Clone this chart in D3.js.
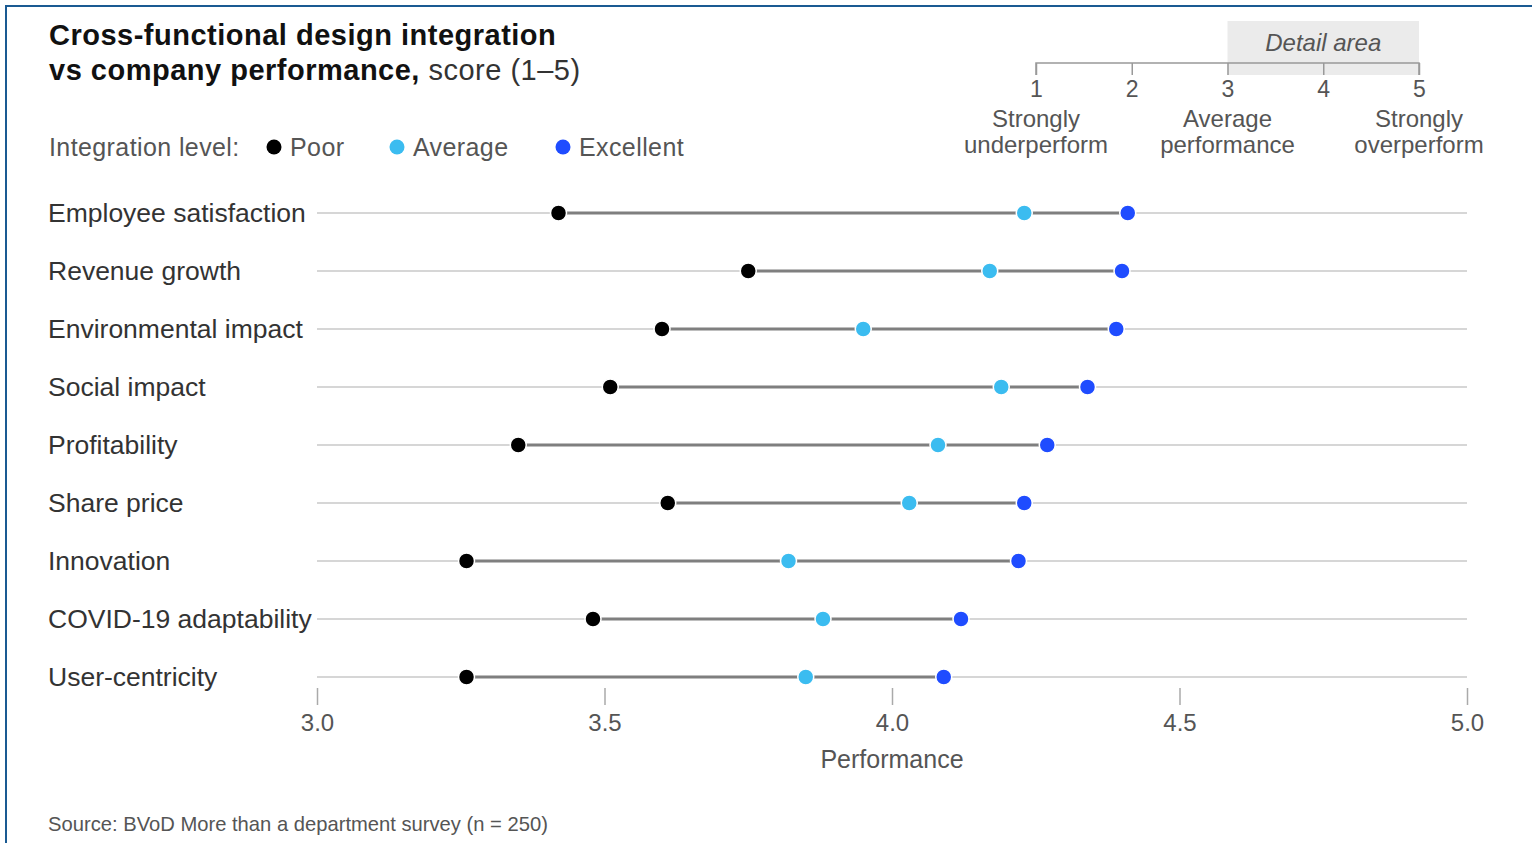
<!DOCTYPE html>
<html>
<head>
<meta charset="utf-8">
<script src="https://cdn.jsdelivr.net/npm/d3@7"></script>
<style>
  body { margin: 0; background: #fff; }
  text { font-family: "Liberation Sans", Arial, sans-serif; }
</style>
</head>
<body>
<script>
// ---- data ----
var metrics = ["Employee satisfaction", "Revenue growth", "Environmental impact", "Social impact",
               "Profitability", "Share price", "Innovation", "COVID-19 adaptability", "User-centricity"];
var poor      = [3.42, 3.75, 3.60, 3.51, 3.35, 3.61, 3.26, 3.48, 3.26];
var average   = [4.23, 4.17, 3.95, 4.19, 4.08, 4.03, 3.82, 3.88, 3.85];
var excellent = [4.41, 4.40, 4.39, 4.34, 4.27, 4.23, 4.22, 4.12, 4.09];
var levels = ["Poor", "Average", "Excellent"];
var levelColors = ["#000000", "#3bbcf0", "#1f4cff"];
var xTicks = [3.0, 3.5, 4.0, 4.5, 5.0];
var scaleTicks = [1, 2, 3, 4, 5];
var scaleNotes = [[1, "Strongly", "underperform"], [3, "Average", "performance"], [5, "Strongly", "overperform"]];

var width = 1532, height = 843;

var svg = d3.select("body").append("svg")
    .attr("width", width)
    .attr("height", height);

// frame (top + left border)
svg.append("line").attr("x1", 5).attr("x2", width).attr("y1", 6).attr("y2", 6)
    .attr("stroke", "#1a5a92").attr("stroke-width", 2);
svg.append("line").attr("x1", 6).attr("x2", 6).attr("y1", 5).attr("y2", height)
    .attr("stroke", "#1a5a92").attr("stroke-width", 2);

// title
svg.append("text").attr("x", 49).attr("y", 45)
    .attr("font-size", "29px").attr("font-weight", "bold").attr("fill", "#111")
    .attr("letter-spacing", "0.5px")
    .text("Cross-functional design integration");
var t2 = svg.append("text").attr("x", 49).attr("y", 80)
    .attr("font-size", "29px").attr("fill", "#111").attr("letter-spacing", "0.5px");
t2.append("tspan").attr("font-weight", "bold").text("vs company performance,");
t2.append("tspan").attr("fill", "#333").text(" score (1\u20135)");

// legend
svg.append("text").attr("x", 49).attr("y", 156)
    .attr("font-size", "25px").attr("letter-spacing", "0.4px").attr("fill", "#555").text("Integration level:");
var legendX = [274, 397, 563];
levels.forEach(function(l, i) {
    svg.append("circle").attr("cx", legendX[i]).attr("cy", 147).attr("r", 7.5)
        .attr("fill", levelColors[i]);
    svg.append("text").attr("x", legendX[i] + 16).attr("y", 156)
        .attr("font-size", "25px").attr("letter-spacing", "0.4px").attr("fill", "#555").text(l);
});

// ---- mini scale (top right) ----
var s = d3.scaleLinear().domain([1, 5]).range([1036, 1419]);
svg.append("rect").attr("x", s(3)).attr("y", 21).attr("width", s(5) - s(3)).attr("height", 54)
    .attr("fill", "#ebebeb");
svg.append("text").attr("x", (s(3) + s(5)) / 2).attr("y", 51)
    .attr("text-anchor", "middle").attr("font-size", "24px").attr("font-style", "italic")
    .attr("fill", "#555").text("Detail area");
var mini = svg.append("g").attr("transform", "translate(0,63)")
    .call(d3.axisBottom(s).tickValues(scaleTicks).tickFormat(d3.format("d")).tickSize(12).tickPadding(6));
mini.select(".domain").attr("stroke", "#999").attr("stroke-width", 1.5)
    .attr("d", "M" + s(1) + ",12V0H" + s(5) + "V12");
mini.selectAll(".tick line").attr("stroke", "#999").attr("stroke-width", 1.5);
mini.selectAll(".tick text").attr("font-size", "23px").attr("fill", "#555")
    .attr("font-family", "Liberation Sans, Arial, sans-serif");
scaleNotes.forEach(function(n) {
    var g = svg.append("text").attr("text-anchor", "middle").attr("font-size", "24px").attr("fill", "#555");
    g.append("tspan").attr("x", s(n[0])).attr("y", 127).text(n[1]);
    g.append("tspan").attr("x", s(n[0])).attr("y", 153).text(n[2]);
});

// ---- main chart ----
var x = d3.scaleLinear().domain([3, 5]).range([317, 1467]);
var y = d3.scalePoint().domain(metrics).range([213, 677]);

// background row lines
svg.selectAll(".rowline").data(metrics).join("line")
    .attr("class", "rowline")
    .attr("x1", x(3)).attr("x2", x(5))
    .attr("y1", function(d) { return y(d); }).attr("y2", function(d) { return y(d); })
    .attr("stroke", "#c8c8c8").attr("stroke-width", 1.5);

// range lines poor -> excellent
svg.selectAll(".range").data(metrics).join("line")
    .attr("class", "range")
    .attr("x1", function(d, i) { return x(poor[i]); })
    .attr("x2", function(d, i) { return x(excellent[i]); })
    .attr("y1", function(d) { return y(d); }).attr("y2", function(d) { return y(d); })
    .attr("stroke", "#7f7f7f").attr("stroke-width", 3);

// dots
[poor, average, excellent].forEach(function(series, k) {
    svg.selectAll(".dot" + k).data(metrics).join("circle")
        .attr("class", "dot" + k)
        .attr("cx", function(d, i) { return x(series[i]); })
        .attr("cy", function(d) { return y(d); })
        .attr("r", 8)
        .attr("fill", levelColors[k])
        .attr("stroke", "#fff").attr("stroke-width", 1.5);
});

// row labels
svg.selectAll(".rowlabel").data(metrics).join("text")
    .attr("class", "rowlabel")
    .attr("x", 48)
    .attr("y", function(d) { return y(d) + 9; })
    .attr("font-size", "26.5px").attr("fill", "#333")
    .text(function(d) { return d; });

// x axis
var xa = svg.append("g").attr("transform", "translate(0,688)")
    .call(d3.axisBottom(x).tickValues(xTicks).tickFormat(d3.format(".1f")).tickSize(17).tickPadding(9));
xa.select(".domain").remove();
xa.selectAll(".tick line").attr("stroke", "#aaa").attr("stroke-width", 1.5);
xa.selectAll(".tick text").attr("font-size", "24px").attr("fill", "#555")
    .attr("font-family", "Liberation Sans, Arial, sans-serif");

svg.append("text").attr("x", x(4)).attr("y", 768).attr("text-anchor", "middle")
    .attr("font-size", "25px").attr("fill", "#555").text("Performance");

// source
svg.append("text").attr("x", 48).attr("y", 831)
    .attr("font-size", "20.2px").attr("fill", "#555")
    .text("Source: BVoD More than a department survey (n = 250)");
</script>
</body>
</html>
